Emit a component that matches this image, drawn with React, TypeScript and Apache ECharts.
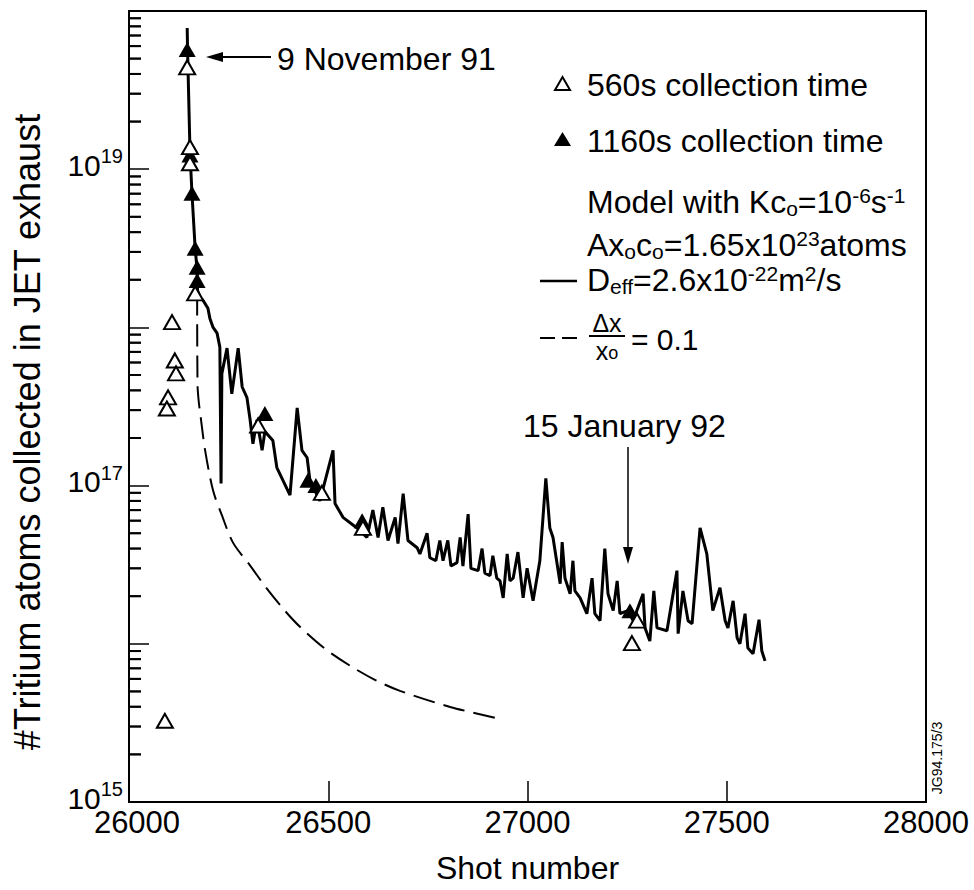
import React, { useEffect, useRef } from 'react';
import * as echarts from 'echarts';

const FONT = 'Liberation Sans, Arial, Helvetica, sans-serif';

// x axis
const xMin = 26000;
const xMax = 28000;
const xStep = 500;
// y axis (log)
const yMin = 1e15;
const yMax = 1e20;
const minorMantissas = [2, 3, 4, 5, 6, 7, 8, 9];
const minorDecades = [15, 16, 17, 18, 19];

// model, D_eff = 2.6e-22 m^2/s (solid)
const solidShots = [
  26146, 26147, 26148, 26153, 26154, 26158, 26166, 26171, 26172, 26178, 26186, 26198, 26203, 26211,
  26221, 26228, 26231, 26233, 26246, 26258, 26274, 26284, 26296, 26304, 26311, 26321, 26334, 26341,
  26361, 26371, 26404, 26422, 26434, 26447, 26454, 26479, 26512, 26517, 26537, 26572, 26597, 26612,
  26625, 26637, 26650, 26668, 26675, 26688, 26700, 26723, 26730, 26748, 26755, 26770, 26780, 26788,
  26800, 26808, 26823, 26831, 26838, 26851, 26858, 26876, 26886, 26893, 26906, 26913, 26923, 26931,
  26939, 26949, 26956, 26964, 26976, 26989, 26999, 27014, 27031, 27046, 27056, 27064, 27082, 27087,
  27094, 27107, 27114, 27119, 27132, 27149, 27162, 27169, 27182, 27194, 27202, 27215, 27225, 27232,
  27252, 27265, 27290, 27295, 27307, 27317, 27325, 27350, 27375, 27378, 27390, 27403, 27413, 27433,
  27450, 27465, 27483, 27496, 27503, 27516, 27526, 27533, 27546, 27553, 27566, 27581, 27588, 27596,
];
const solidValues = [
  7.8e19, 5.7e19, 4.4e19, 1.32e19, 1.14e19, 7.05e18, 3.16e18, 2.3e18, 1.71e18, 1.55e18, 1.48e18, 1.32e18, 1.14e18, 1.0e18,
  9.2e17, 7.5e17, 1.03e17, 5.1e17, 7.4e17, 3.8e17, 7.4e17, 4.2e17, 3.6e17, 2.6e17, 1.84e17, 2.6e17, 1.67e17, 2.2e17,
  1.93e17, 1.3e17, 8.7e16, 3.1e17, 1.67e17, 1.5e17, 1.08e17, 8.0e16, 1.67e17, 7.7e16, 6.3e16, 5.4e16, 4.7e16, 7.0e16,
  4.7e16, 7.3e16, 4.5e16, 6.3e16, 4.3e16, 8.9e16, 4.5e16, 4.05e16, 3.7e16, 5.0e16, 3.5e16, 3.35e16, 4.5e16, 3.35e16,
  4.5e16, 3.1e16, 3.26e16, 4.7e16, 3.1e16, 6.6e16, 3.0e16, 2.9e16, 4.0e16, 2.8e16, 2.7e16, 3.6e16, 2.6e16, 2.5e16,
  1.95e16, 3.7e16, 2.5e16, 2.6e16, 3.8e16, 1.95e16, 3.0e16, 1.87e16, 3.35e16, 1.11e17, 5.4e16, 4.7e16, 2.4e16, 4.4e16,
  2.6e16, 2.07e16, 3.35e16, 2.16e16, 1.95e16, 1.55e16, 2.6e16, 1.55e16, 1.4e16, 4.0e16, 2.07e16, 1.62e16, 2.5e16, 1.55e16,
  1.62e16, 1.4e16, 2.07e16, 1.26e16, 1.04e16, 2.16e16, 1.26e16, 1.21e16, 2.9e16, 1.16e16, 2.16e16, 1.4e16, 1.34e16, 5.4e16,
  3.7e16, 1.62e16, 2.26e16, 1.4e16, 1.26e16, 1.87e16, 1.09e16, 1.0e16, 1.55e16, 9.4e15, 8.65e15, 1.42e16, 9.0e15, 7.8e15,
];

// model, dx/x0 = 0.1 (dashed)
const dashedShots = [26171, 26172, 26175, 26180, 26191, 26211, 26233, 26261, 26304, 26346, 26391, 26429, 26492, 26555, 26617, 26680, 26806, 26931];
const dashedValues = [1.64e18, 4.3e17, 3.4e17, 2.7e17, 1.67e17, 9.3e16, 6.5e16, 4.36e16, 3.12e16, 2.23e16, 1.62e16, 1.28e16, 9.3e15, 7.26e15, 5.92e15, 5.04e15, 3.99e15, 3.35e15];

// 1160 s collection time (filled triangles)
const longShots = [26146, 26153, 26158, 26166, 26171, 26171, 26341, 26449, 26469, 26585, 27257];
const longValues = [5.7e19, 1.23e19, 7.05e18, 3.16e18, 2.4e18, 1.98e18, 2.86e17, 1.08e17, 1.0e17, 6.0e16, 1.62e16];

// 560 s collection time (open triangles)
const shortShots = [26146, 26153, 26153, 26166, 26108, 26115, 26118, 26098, 26095, 26090, 26324, 26484, 26587, 27262, 27275];
const shortValues = [4.4e19, 1.38e19, 1.09e19, 1.64e18, 1.08e18, 6.18e17, 5.12e17, 3.61e17, 3.07e17, 3.26e15, 2.4e17, 9.0e16, 5.4e16, 1.01e16, 1.4e16];

const zip = (xs: number[], ys: number[]) => xs.map((x, i) => [x, ys[i]]);

const minorTickValues: number[] = [];
minorDecades.forEach((d) => {
  minorMantissas.forEach((m) => {
    minorTickValues.push(m * Math.pow(10, d));
  });
});

const txt = (text: string, x: number, y: number, fontSize: number, align = 'left', extra: any = {}) => ({
  type: 'text',
  x,
  y,
  silent: true,
  ...extra,
  style: {
    text,
    fill: '#000',
    fontSize,
    fontFamily: FONT,
    align,
    textAlign: align,
    verticalAlign: 'middle',
    textVerticalAlign: 'middle',
    ...(extra.style || {}),
  },
});

const richBase = {
  t: { fontSize: 32, fontFamily: FONT, color: '#000', lineHeight: 34 },
  sup: { fontSize: 21, fontFamily: FONT, color: '#000', lineHeight: 12, verticalAlign: 'top' },
  sub: { fontSize: 21, fontFamily: FONT, color: '#000', lineHeight: 5, verticalAlign: 'bottom' },
};

const richTxt = (text: string, x: number, y: number) => ({
  type: 'text',
  x,
  y,
  silent: true,
  style: {
    text,
    fill: '#000',
    fontSize: 32,
    fontFamily: FONT,
    align: 'left',
    textAlign: 'left',
    verticalAlign: 'middle',
    textVerticalAlign: 'middle',
    rich: richBase,
  },
});

const graphicEls: any[] = [
  txt('#Tritium atoms collected in JET exhaust', 27, 432, 36, 'center', { rotation: Math.PI / 2 }),
  // 9 November 91 annotation
  txt('9 November 91', 277, 59, 32),
  { type: 'line', silent: true, shape: { x1: 220, y1: 57, x2: 271, y2: 57 }, style: { stroke: '#000', lineWidth: 2 } },
  { type: 'polygon', silent: true, shape: { points: [[206, 57], [223, 52], [223, 62]] }, style: { fill: '#000' } },
  // 15 January 92 annotation
  txt('15 January 92', 523, 426, 32),
  { type: 'line', silent: true, shape: { x1: 628, y1: 447, x2: 628, y2: 550 }, style: { stroke: '#000', lineWidth: 1.5 } },
  { type: 'polygon', silent: true, shape: { points: [[628, 564], [623, 547], [633, 547]] }, style: { fill: '#000' } },
  // legend
  { type: 'polygon', silent: true, shape: { points: [[555, 90], [570, 90], [562.5, 77]] }, style: { fill: '#fff', stroke: '#000', lineWidth: 2 } },
  txt('560s collection time', 587, 85, 32),
  { type: 'polygon', silent: true, shape: { points: [[554, 146], [571, 146], [562.5, 132]] }, style: { fill: '#000' } },
  txt('1160s collection time', 587, 141, 32),
  richTxt('{t|Model with Kc}{sub|o}{t|=10}{sup|-6}{t|s}{sup|-1}', 587, 202),
  richTxt('{t|Ax}{sub|o}{t|c}{sub|o}{t|=1.65x10}{sup|23}{t|atoms}', 587, 245),
  { type: 'line', silent: true, shape: { x1: 540, y1: 281, x2: 577, y2: 281 }, style: { stroke: '#000', lineWidth: 2.5 } },
  richTxt('{t|D}{sub|eff}{t|=2.6x10}{sup|-22}{t|m}{sup|2}{t|/s}', 587, 280),
  { type: 'line', silent: true, shape: { x1: 540, y1: 338, x2: 577, y2: 338 }, style: { stroke: '#000', lineWidth: 2, lineDash: [15, 7] } },
  txt('\u0394x', 607, 323, 25, 'center', { style: { lineHeight: 24 } }),
  { type: 'line', silent: true, shape: { x1: 589, y1: 336, x2: 625, y2: 336 }, style: { stroke: '#000', lineWidth: 2 } },
  {
    type: 'text',
    x: 607,
    y: 351,
    silent: true,
    style: {
      text: '{a|x}{b|o}',
      fill: '#000',
      fontFamily: FONT,
      align: 'center',
      textAlign: 'center',
      verticalAlign: 'middle',
      textVerticalAlign: 'middle',
      rich: {
        a: { fontSize: 25, fontFamily: FONT, color: '#000', lineHeight: 22 },
        b: { fontSize: 18, fontFamily: FONT, color: '#000', lineHeight: 6, verticalAlign: 'bottom' },
      },
    },
  },
  txt('= 0.1', 631, 339, 30),
  // figure id
  txt('JG94.175/3', 937, 758, 14, 'center', { rotation: Math.PI / 2 }),
];

export default function App() {
  const ref = useRef<HTMLDivElement>(null);
  useEffect(() => {
    const chart = echarts.init(ref.current!, null, { renderer: 'svg' });
    const option: any = {
      animation: false,
      backgroundColor: '#fff',
      grid: { left: 129, right: 48, top: 11, bottom: 88, show: true, borderColor: '#000', borderWidth: 2 },
      xAxis: {
        type: 'value',
        min: xMin,
        max: xMax,
        interval: xStep,
        axisLine: { lineStyle: { color: '#000', width: 2 } },
        axisTick: { inside: true, length: 21, lineStyle: { color: '#000', width: 1.5 } },
        splitLine: { show: false },
        axisLabel: {
          color: '#000',
          fontSize: 31,
          fontFamily: FONT,
          margin: 5,
          showMinLabel: true,
          showMaxLabel: true,
          formatter: (v: number) => (v === xMin ? '{first|' + v + '}' : String(v)),
          rich: { first: { fontSize: 31, fontFamily: FONT, color: '#000', padding: [0, 0, 0, 16] } },
        },
        name: 'Shot number',
        nameLocation: 'middle',
        nameGap: 50,
        nameTextStyle: { color: '#000', fontSize: 32, fontFamily: FONT },
      },
      yAxis: {
        type: 'log',
        logBase: 10,
        min: yMin,
        max: yMax,
        axisLine: { lineStyle: { color: '#000', width: 2 } },
        axisTick: { inside: true, length: 20, lineStyle: { color: '#000', width: 1.5 } },
        splitLine: { show: false },
        minorTick: { show: false },
        axisLabel: {
          color: '#000',
          margin: 6,
          showMinLabel: true,
          showMaxLabel: true,
          padding: [0, 0, 8, 0],
          formatter: (v: number) => {
            const e = Math.round(Math.log10(v));
            return e % 2 === 1 ? '{b|10}{s|' + e + '}' : '';
          },
          rich: {
            b: { fontSize: 30, fontFamily: FONT, color: '#000', lineHeight: 38 },
            s: { fontSize: 20, fontFamily: FONT, color: '#000', lineHeight: 18, verticalAlign: 'top' },
          },
        },
      },
      series: [
        {
          // minor ticks of the log axis (2..9 x 10^n), placed by the axis scale
          type: 'scatter',
          data: minorTickValues.map((v) => [xMin, v]),
          symbol: 'rect',
          symbolSize: [12, 2],
          symbolOffset: [6, 0],
          itemStyle: { color: '#000' },
          z: 6,
        },
        {
          type: 'line',
          data: zip(solidShots, solidValues),
          showSymbol: false,
          symbol: 'none',
          lineStyle: { color: '#000', width: 3 },
          z: 3,
        },
        {
          type: 'line',
          data: zip(dashedShots, dashedValues),
          showSymbol: false,
          symbol: 'none',
          smooth: 0.3,
          lineStyle: { color: '#000', width: 2, type: [22, 9] },
          z: 3,
        },
        {
          type: 'scatter',
          data: zip(longShots, longValues),
          symbol: 'triangle',
          symbolSize: [17, 15],
          itemStyle: { color: '#000', opacity: 1 },
          z: 4,
        },
        {
          type: 'scatter',
          data: zip(shortShots, shortValues),
          symbol: 'triangle',
          symbolSize: [16, 14],
          itemStyle: { color: '#fff', borderColor: '#000', borderWidth: 2, opacity: 1 },
          z: 5,
        },
      ],
      graphic: graphicEls,
    };
    chart.setOption(option);
    // duplicate the minor ticks as filled rects, positioned through the chart's scales
    const tickEls = minorTickValues.map((v) => {
      const p = chart.convertToPixel({ gridIndex: 0 }, [xMin, v]) as number[];
      return { type: 'rect', silent: true, z: 20, shape: { x: p[0], y: p[1] - 1, width: 12, height: 2 }, style: { fill: '#000' } };
    });
    chart.setOption({ graphic: [...graphicEls, ...tickEls] });
    return () => chart.dispose();
  }, []);
  return (
    <div
      ref={ref}
      style={{ position: 'absolute', left: 0, top: 0, width: 974, height: 890, background: '#fff' }}
    />
  );
}
